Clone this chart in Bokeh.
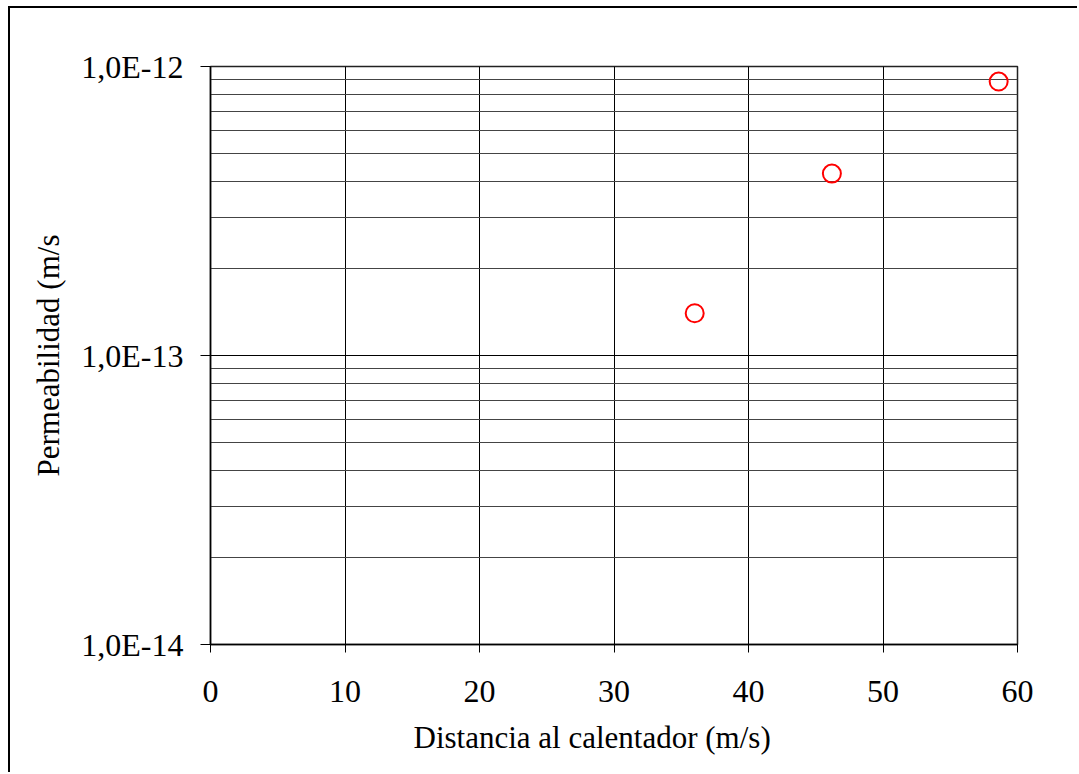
from bokeh.plotting import figure
from bokeh.models import Range1d, FixedTicker, CustomJSTickFormatter, Title
from bokeh.embed import file_html
from bokeh.resources import INLINE

# Permeability measured at three distances from the heater
distancia = [36.0, 46.2, 58.6]
permeabilidad = [1.40e-13, 4.26e-13, 8.87e-13]

x_ticks = [0, 10, 20, 30, 40, 50, 60]
y_ticks = [1e-14, 1e-13, 1e-12]
y_tick_labels = ["1,0E-14", "1,0E-13", "1,0E-12"]
y_minor = [m * d for d in (1e-14, 1e-13) for m in range(2, 10)]

FONT = "'Liberation Serif', 'Times New Roman', serif"

p = figure(
    width=1069, height=766,
    y_axis_type="log",
    x_range=Range1d(0, 60), y_range=Range1d(1e-14, 1e-12),
    output_backend="svg", toolbar_location=None,
    min_border_left=200, min_border_right=62,
    min_border_top=58, min_border_bottom=130,
)
# outer frame of the chart area (left and top edges)
p.styles = {
    "margin-left": "8px", "margin-top": "6px",
    "border-left": "2px solid #000", "border-top": "2px solid #000",
}

p.outline_line_color = "#222222"
p.outline_line_width = 1.5

# x axis
p.xaxis.ticker = FixedTicker(ticks=x_ticks)
p.xaxis.major_tick_out = 8
p.xaxis.major_tick_in = 0
p.xaxis.minor_tick_out = 0
p.xaxis.major_label_standoff = 28

# x axis title, set slightly left of the frame centre
x_title = Title(
    text="Distancia al calentador (m/s)", align="left", offset=203,
    text_font=FONT, text_font_size="31px", text_font_style="normal",
    text_color="black", standoff=26,
)
p.add_layout(x_title, "below")

# y axis
p.yaxis.ticker = FixedTicker(ticks=y_ticks, minor_ticks=y_minor)
p.yaxis.formatter = CustomJSTickFormatter(
    args=dict(tick_vals=y_ticks, tick_labels=y_tick_labels),
    code="""
        let best = 0, bd = Infinity;
        for (let i = 0; i < tick_vals.length; i++) {
            const d = Math.abs(Math.log10(tick_vals[i]) - Math.log10(tick));
            if (d < bd) { bd = d; best = i; }
        }
        return tick_labels[best];
    """,
)
p.yaxis.axis_label = "Permeabilidad (m/s"
p.yaxis.major_tick_out = 10
p.yaxis.major_tick_in = 0
p.yaxis.minor_tick_out = 0
p.yaxis.minor_tick_in = 0
p.yaxis.major_label_standoff = 17
p.yaxis.axis_label_standoff = 12

for ax in (p.xaxis, p.yaxis):
    ax.axis_line_color = "black"
    ax.axis_line_width = 1.5
    ax.major_tick_line_color = "black"
    ax.major_tick_line_width = 1
    ax.major_label_text_font = FONT
    ax.major_label_text_font_size = "32px"
    ax.major_label_text_color = "black"
    ax.axis_label_text_font = FONT
    ax.axis_label_text_font_size = "31px"
    ax.axis_label_text_font_style = "normal"
    ax.axis_label_text_color = "black"

# grid
p.xgrid.grid_line_color = "black"
p.xgrid.grid_line_width = 1
p.ygrid.grid_line_color = "black"
p.ygrid.grid_line_width = 1
p.ygrid.minor_grid_line_color = "#444444"
p.ygrid.minor_grid_line_width = 1

p.scatter(distancia, permeabilidad, marker="circle", size=18,
          fill_color=None, line_color="red", line_width=2)

open("out.html", "w").write(file_html(p, INLINE))
